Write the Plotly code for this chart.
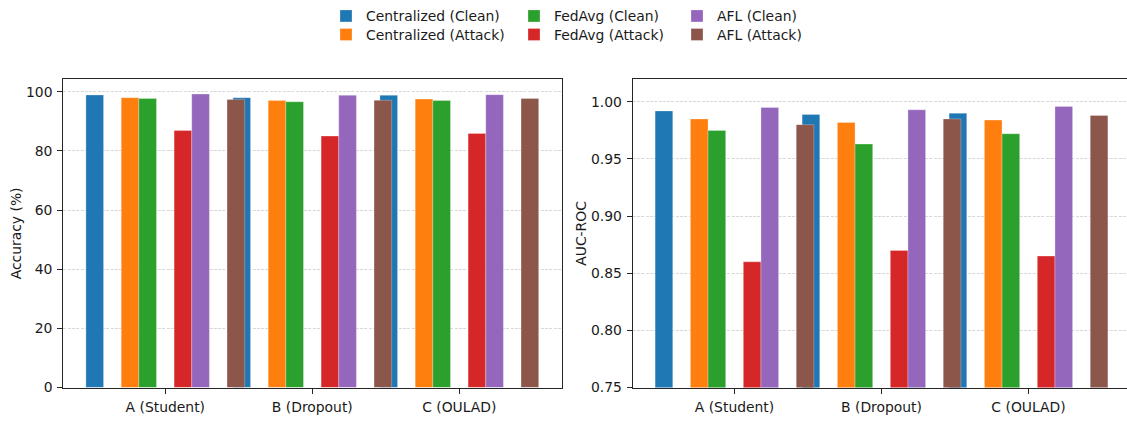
import plotly.graph_objects as go

# ---------------- data ----------------
categories = ["A (Student)", "B (Dropout)", "C (OULAD)"]
series_names = ["Centralized (Clean)", "Centralized (Attack)",
                "FedAvg (Clean)", "FedAvg (Attack)",
                "AFL (Clean)", "AFL (Attack)"]

acc_centralized_clean = [98.9, 98.0, 98.8]
acc_centralized_attack = [98.0, 97.0, 97.5]
acc_fedavg_clean = [97.7, 96.6, 97.0]
acc_fedavg_attack = [86.9, 85.0, 85.9]
acc_afl_clean = [99.2, 98.8, 99.0]
acc_afl_attack = [97.4, 97.1, 97.7]

auc_centralized_clean = [0.992, 0.989, 0.990]
auc_centralized_attack = [0.985, 0.982, 0.984]
auc_fedavg_clean = [0.975, 0.963, 0.972]
auc_fedavg_attack = [0.860, 0.870, 0.865]
auc_afl_clean = [0.995, 0.993, 0.996]
auc_afl_attack = [0.980, 0.985, 0.988]

acc_tickvals = [0, 20, 40, 60, 80, 100]
auc_tickvals = [0.75, 0.80, 0.85, 0.90, 0.95, 1.00]

# ---------------- style ----------------
colors = ["#1f77b4", "#ff7f0e", "#2ca02c", "#d62728", "#9467bd", "#8c564b"]
bar_width = 0.12
offset_steps = [-4, -2, -1, 1, 2, 4]   # offsets in units of bar width
FONT = "DejaVu Sans"
FS = 13.9
W, H = 1127, 421

# legend placement (pixels): text left edge per column, row centres
legend_text_x = [366, 366, 554, 554, 717, 717]
legend_row_y = [15.7, 34.7, 15.7, 34.7, 15.7, 34.7]

acc_series = [acc_centralized_clean, acc_centralized_attack, acc_fedavg_clean,
              acc_fedavg_attack, acc_afl_clean, acc_afl_attack]
auc_series = [auc_centralized_clean, auc_centralized_attack, auc_fedavg_clean,
              auc_fedavg_attack, auc_afl_clean, auc_afl_attack]
legend_ids = ["legend"] + ["legend%d" % k for k in range(2, 7)]

fig = go.Figure()
cat_idx = list(range(len(categories)))
bar_line = dict(color="rgba(255,255,255,0.45)", width=0.6)

for i, name in enumerate(series_names):
    xs = [c + offset_steps[i] * bar_width for c in cat_idx]
    fig.add_trace(go.Bar(
        x=xs, y=acc_series[i], width=bar_width, name=name,
        marker=dict(color=colors[i], line=bar_line),
        xaxis="x", yaxis="y", legend=legend_ids[i], showlegend=True,
        legendgroup=name,
    ))
for i, name in enumerate(series_names):
    xs = [c + offset_steps[i] * bar_width for c in cat_idx]
    fig.add_trace(go.Bar(
        x=xs, y=auc_series[i], width=bar_width, name=name,
        marker=dict(color=colors[i], line=bar_line),
        xaxis="x2", yaxis="y2", showlegend=False, legendgroup=name,
    ))

# pixel geometry
px_per_unit = 147.0
left_tick0 = 165.3
right_tick0 = 734.5
left_l, left_r = 63.3, 561.5
right_l = 632.7
top_px, bot_px = 80.0, 395.0

def xr(tick0, lpx, rpx):
    return [(lpx - tick0) / px_per_unit, (rpx - tick0) / px_per_unit]

ydom = [(H - bot_px) / H, (H - top_px) / H]

axis_common = dict(
    showline=True, linecolor="#262626", linewidth=1.1,
    ticks="outside", ticklen=5, tickwidth=1.1, tickcolor="#262626",
    ticklabelstandoff=2,
    tickfont=dict(family=FONT, size=FS, color="#1a1a1a"),
    zeroline=False,
)
grid_style = dict(showgrid=True, gridcolor="#d9d9d9", gridwidth=0.8, griddash="3px,1.3px")

layout_legends = {}
for i, lid in enumerate(legend_ids):
    layout_legends[lid] = dict(
        x=(legend_text_x[i] - 40) / W, y=1 - legend_row_y[i] / H,
        xanchor="left", yanchor="middle",
        bgcolor="rgba(0,0,0,0)", borderwidth=0,
        font=dict(family=FONT, size=FS, color="#1a1a1a"),
        orientation="v",
    )

fig.update_layout(
    width=W, height=H,
    margin=dict(l=0, r=0, t=0, b=0),
    paper_bgcolor="white", plot_bgcolor="white",
    barmode="overlay",
    font=dict(family=FONT, size=FS, color="#1a1a1a"),
    xaxis=dict(domain=[left_l / W, left_r / W], range=xr(left_tick0, left_l, left_r),
               tickvals=cat_idx, ticktext=categories, mirror=True, showgrid=False,
               anchor="y", **axis_common),
    yaxis=dict(domain=ydom, range=[0, 104.2], tickvals=acc_tickvals, mirror=True,
               title=dict(text="Accuracy (%)", font=dict(family=FONT, size=FS), standoff=1),
               anchor="x", **grid_style, **axis_common),
    xaxis2=dict(domain=[right_l / W, 1.0], range=xr(right_tick0, right_l, W),
                tickvals=cat_idx, ticktext=categories, mirror=True, showgrid=False,
                anchor="y2", **axis_common),
    yaxis2=dict(domain=ydom, range=[0.75, 1.0197], tickvals=auc_tickvals, tickformat=".2f",
                mirror=False,
                title=dict(text="AUC-ROC", font=dict(family=FONT, size=FS), standoff=1),
                anchor="x2", **grid_style, **axis_common),
    **layout_legends,
)

fig.write_html("out.html")
